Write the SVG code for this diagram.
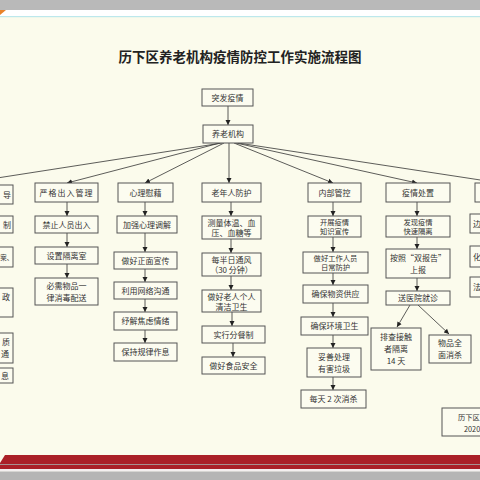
<svg xmlns="http://www.w3.org/2000/svg" width="480" height="480" viewBox="0 0 480 480">
<defs>
<marker id="ah" markerWidth="6" markerHeight="6" refX="5" refY="3" orient="auto" markerUnits="userSpaceOnUse">
<path d="M0,0.5 L5,3 L0,5.5 Z" fill="#222"/>
</marker>
<style>
.b{fill:#FCFCF0;stroke:#555;stroke-width:1}
.t{font-family:"Noto Sans CJK SC","Liberation Serif",serif;font-size:8px;fill:#333;text-anchor:middle}
.s{font-size:7.3px}
.c{stroke:#333;stroke-width:0.8;fill:none}
.a{stroke:#333;stroke-width:0.8;fill:none;marker-end:url(#ah)}
</style>
</defs>
<rect x="0" y="0" width="480" height="480" fill="#FBFBEC"/>
<rect x="0" y="0" width="480" height="10" fill="#B9B9B9"/>
<rect x="0" y="10" width="480" height="6" fill="#FFFFFF"/>
<rect x="0" y="16" width="480" height="1.2" fill="#BDE8EC"/>
<path d="M0,10 L6,10 L0,15 Z" fill="#E8832A"/>
<path d="M5,455 L480,455 L480,469 L0,469 L0,463 Z" fill="#AA2027"/>
<rect x="0" y="464" width="480" height="1" fill="#A89090"/>
<rect x="0" y="469" width="480" height="2.5" fill="#F4F0F0"/>
<rect x="0" y="471.5" width="480" height="8.5" fill="#B5B5B5"/>
<text x="240" y="62" font-family="Noto Sans CJK SC,serif" font-size="13.5" font-weight="bold" fill="#222" text-anchor="middle">历下区养老机构疫情防控工作实施流程图</text>

<g id="connectors">
<line class="a" x1="228" y1="106" x2="228" y2="125"/>
<line class="c" x1="222" y1="143" x2="-35" y2="183"/>
<line class="a" x1="220" y1="143" x2="67" y2="183"/>
<line class="a" x1="224" y1="143" x2="145" y2="183"/>
<line class="a" x1="229" y1="143" x2="229" y2="183"/>
<line class="a" x1="234" y1="143" x2="333" y2="183"/>
<line class="a" x1="236" y1="143" x2="417" y2="183"/>
<line class="c" x1="238" y1="143" x2="500" y2="183"/>
<line class="a" x1="67" y1="202" x2="67" y2="216"/>
<line class="a" x1="67" y1="233" x2="67" y2="247"/>
<line class="a" x1="67" y1="264" x2="67" y2="278"/>
<line class="a" x1="145" y1="202" x2="145" y2="216"/>
<line class="a" x1="145" y1="233" x2="145" y2="252"/>
<line class="a" x1="145" y1="269" x2="145" y2="282"/>
<line class="a" x1="145" y1="299" x2="145" y2="312"/>
<line class="a" x1="145" y1="330" x2="145" y2="343"/>
<line class="a" x1="231" y1="202" x2="231" y2="216"/>
<line class="a" x1="231" y1="239" x2="231" y2="253"/>
<line class="a" x1="231" y1="276" x2="231" y2="290"/>
<line class="a" x1="232" y1="312" x2="232" y2="326"/>
<line class="a" x1="233" y1="343" x2="233" y2="357"/>
<line class="a" x1="333" y1="202" x2="333" y2="216"/>
<line class="a" x1="333" y1="237" x2="333" y2="252"/>
<line class="a" x1="333" y1="273" x2="333" y2="285"/>
<line class="a" x1="333" y1="303" x2="333" y2="317"/>
<line class="a" x1="333" y1="335" x2="333" y2="348"/>
<line class="a" x1="333" y1="377" x2="333" y2="390"/>
<line class="a" x1="417" y1="202" x2="417" y2="216"/>
<line class="a" x1="417" y1="237" x2="417" y2="249"/>
<line class="a" x1="417" y1="278" x2="417" y2="291"/>
<line class="a" x1="410" y1="305" x2="397" y2="327"/>
<line class="a" x1="418" y1="305" x2="449" y2="334"/>
</g>

<g id="n-tufa"><rect class="b" x="202" y="89" width="51" height="17"/><text class="t" x="227.5" y="100.5">突发疫情</text></g>
<g id="n-yanglao"><rect class="b" x="203" y="125" width="50" height="18"/><text class="t" x="228" y="137">养老机构</text></g>

<g id="col1">
<rect class="b" x="-50" y="185" width="63" height="19"/><text class="t" x="7" y="197.5">导</text>
<rect class="b" x="-50" y="216" width="63" height="17"/><text class="t" x="7" y="227.5">制</text>
<rect class="b" x="-50" y="247" width="63" height="20"/><text class="t" x="0.3" y="259.5" style="text-anchor:start;font-size:6.4px">案、</text>
<rect class="b" x="-50" y="288" width="63" height="29"/><text class="t" x="6" y="300">政</text>
<rect class="b" x="-50" y="333" width="63" height="30"/><text class="t" x="6" y="345">质</text><text class="t" x="5" y="357">通</text>
<rect class="b" x="-50" y="368" width="63" height="15"/><text class="t" x="5" y="378.5">息</text>
</g>

<g id="col2">
<rect class="b" x="35" y="183" width="63" height="19"/><text class="t" x="66.5" y="195.5" letter-spacing="1">严格出入管理</text>
<rect class="b" x="35" y="216" width="63" height="17"/><text class="t" x="66.5" y="227.5">禁止人员出入</text>
<rect class="b" x="35" y="247" width="63" height="17"/><text class="t" x="66.5" y="258.5">设置隔离室</text>
<rect class="b" x="35" y="278" width="63" height="27"/><text class="t" x="66.5" y="289">必需物品一</text><text class="t" x="66.5" y="301">律消毒配送</text>
</g>

<g id="col3">
<rect class="b" x="118" y="183" width="55" height="19"/><text class="t" x="145.5" y="195.5">心理慰藉</text>
<rect class="b" x="117" y="216" width="60" height="17"/><text class="t" x="147" y="227.5">加强心理调解</text>
<rect class="b" x="114" y="252" width="63" height="17"/><text class="t" x="145.5" y="263.5">做好正面宣传</text>
<rect class="b" x="114" y="282" width="63" height="17"/><text class="t" x="145.5" y="293.5">利用网络沟通</text>
<rect class="b" x="114" y="312" width="63" height="18"/><text class="t" x="145.5" y="324">纾解焦虑情绪</text>
<rect class="b" x="114" y="343" width="63" height="18"/><text class="t" x="145.5" y="355">保持规律作息</text>
</g>

<g id="col4">
<rect class="b" x="202" y="183" width="59" height="19"/><text class="t" x="231.5" y="195.5">老年人防护</text>
<rect class="b" x="202" y="216" width="59" height="23"/><text class="t" x="231.5" y="226">测量体温、血</text><text class="t" x="231.5" y="236">压、血糖等</text>
<rect class="b" x="202" y="253" width="59" height="23"/><text class="t" x="231.5" y="263">每半日通风</text><text class="t" x="231.5" y="273">（30 分钟）</text>
<rect class="b" x="202" y="290" width="59" height="22"/><text class="t" x="231.5" y="299.5">做好老人个人</text><text class="t" x="231.5" y="309.5">清洁卫生</text>
<rect class="b" x="202" y="326" width="63" height="17"/><text class="t" x="233.5" y="337.5">实行分餐制</text>
<rect class="b" x="202" y="357" width="63" height="17"/><text class="t" x="233.5" y="368.5">做好食品安全</text>
</g>

<g id="col5">
<rect class="b" x="308" y="183" width="53" height="19"/><text class="t" x="334.5" y="195.5">内部管控</text>
<rect class="b" x="308" y="216" width="53" height="21"/><text class="t s" x="334.5" y="224.5">开展疫情</text><text class="t s" x="334.5" y="234">知识宣传</text>
<rect class="b" x="303" y="252" width="65" height="21"/><text class="t s" x="335.5" y="260.5">做好工作人员</text><text class="t s" x="335.5" y="270">日常防护</text>
<rect class="b" x="303" y="285" width="65" height="18"/><text class="t" x="335.5" y="297">确保物资供应</text>
<rect class="b" x="301" y="317" width="67" height="18"/><text class="t" x="334.5" y="329">确保环境卫生</text>
<rect class="b" x="307" y="348" width="54" height="29"/><text class="t" x="334" y="360">妥善处理</text><text class="t" x="334" y="372">有害垃圾</text>
<rect class="b" x="301" y="390" width="65" height="18"/><text class="t" x="333.5" y="402">每天 2 次消杀</text>
</g>

<g id="col6">
<rect class="b" x="386" y="183" width="64" height="19"/><text class="t" x="418" y="195.5">疫情处置</text>
<rect class="b" x="386" y="216" width="64" height="21"/><text class="t s" x="418" y="224.5">发现疫情</text><text class="t s" x="418" y="234">快速隔离</text>
<rect class="b" x="386" y="249" width="64" height="29"/><text class="t" x="418" y="261">按照“双报告”</text><text class="t" x="418" y="273">上报</text>
<rect class="b" x="386" y="291" width="64" height="14"/><text class="t" x="418" y="301">送医院就诊</text>
<rect class="b" x="371" y="328" width="50" height="42"/><text class="t" x="396" y="340">排查接触</text><text class="t" x="396" y="352">者隔离</text><text class="t" x="396" y="364">14 天</text>
<rect class="b" x="429" y="335" width="42" height="28"/><text class="t" x="450" y="346">物品全</text><text class="t" x="450" y="358">面消杀</text>
</g>

<g id="col7">
<rect class="b" x="475" y="183" width="60" height="19"/>
<rect class="b" x="470" y="214" width="60" height="19"/><text class="t" x="477" y="226.5">边</text>
<rect class="b" x="470" y="246" width="60" height="21"/><text class="t" x="477" y="259.5">化</text>
<rect class="b" x="470" y="277" width="60" height="20"/><text class="t" x="477" y="290">法</text>
</g>

<g id="n-sign">
<rect class="b" x="442" y="408" width="60" height="28"/>
<text class="t" x="458" y="420" style="text-anchor:start;font-size:7.3px">历下区</text>
<text class="t" x="464" y="432" style="text-anchor:start;font-size:7.3px">2020</text>
</g>
</svg>
